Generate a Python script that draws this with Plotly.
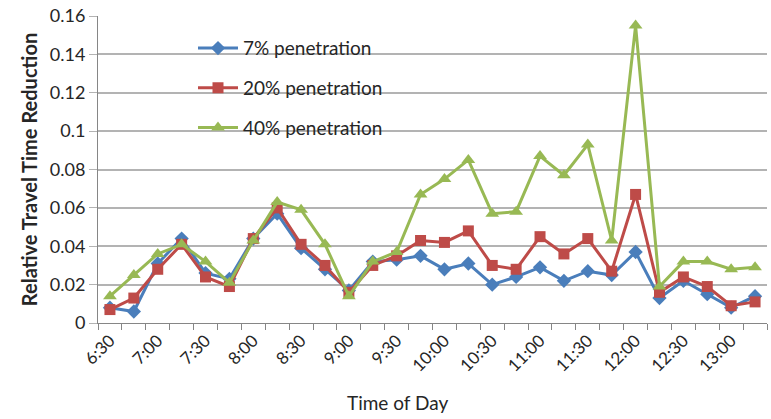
import plotly.graph_objects as go

times = ["6:30", "6:45", "7:00", "7:15", "7:30", "7:45", "8:00", "8:15", "8:30", "8:45",
         "9:00", "9:15", "9:30", "9:45", "10:00", "10:15", "10:30", "10:45", "11:00", "11:15",
         "11:30", "11:45", "12:00", "12:15", "12:30", "12:45", "13:00", "13:15"]

pen7 = [0.008, 0.006, 0.031, 0.044, 0.026, 0.023, 0.044, 0.057, 0.039, 0.028,
        0.017, 0.032, 0.033, 0.035, 0.028, 0.031, 0.020, 0.024, 0.029, 0.022,
        0.027, 0.025, 0.037, 0.013, 0.022, 0.015, 0.008, 0.014]

pen20 = [0.007, 0.013, 0.028, 0.041, 0.024, 0.019, 0.044, 0.060, 0.041, 0.030,
         0.016, 0.030, 0.035, 0.043, 0.042, 0.048, 0.030, 0.028, 0.045, 0.036,
         0.044, 0.027, 0.067, 0.016, 0.024, 0.019, 0.009, 0.011]

pen40 = [0.014, 0.025, 0.036, 0.041, 0.032, 0.021, 0.043, 0.063, 0.059, 0.041,
         0.014, 0.032, 0.037, 0.067, 0.075, 0.085, 0.057, 0.058, 0.087, 0.077,
         0.093, 0.043, 0.155, 0.019, 0.032, 0.032, 0.028, 0.029]

series_names = ["7% penetration", "20% penetration", "40% penetration"]
y_ticks = [0, 0.02, 0.04, 0.06, 0.08, 0.1, 0.12, 0.14, 0.16]
y_ticktext = ["0", "0.02", "0.04", "0.06", "0.08", "0.1", "0.12", "0.14", "0.16"]
x_title = "Time of Day"
y_title = "Relative Travel Time Reduction"

FONT = "Lato"
idx = list(range(len(times)))

fig = go.Figure()
styles = [
    (pen7, "#4a7ebb", "diamond", 11),
    (pen20, "#be4b48", "square", 11),
    (pen40, "#98b954", "triangle-up", 12),
]
for (vals, color, sym, size), name in zip(styles, series_names):
    fig.add_trace(go.Scatter(
        x=idx, y=vals, name=name, mode="lines+markers",
        line=dict(color=color, width=3),
        marker=dict(symbol=sym, size=size, color=color),
        legendgroup=name,
    ))

fig.add_shape(type="rect", xref="paper", yref="paper",
              x0=0.055, x1=0.537, y0=0.57, y1=0.953,
              fillcolor="white", line=dict(width=0), layer="between")

fig.add_annotation(text=x_title, xref="paper", yref="paper",
                   x=0.447, y=-0.259, xanchor="center", yanchor="middle",
                   showarrow=False, font=dict(size=19, color="#262626"))

fig.update_layout(
    width=771, height=419,
    margin=dict(l=98, r=4, t=14, b=96),
    paper_bgcolor="white", plot_bgcolor="white",
    font=dict(family=FONT, size=15, color="#404040"),
    showlegend=True,
    legend=dict(x=0.142, y=0.957, xanchor="left", yanchor="top",
                bgcolor="rgba(0,0,0,0)", font=dict(size=19, color="#262626"),
                tracegroupgap=12, itemwidth=40),
    xaxis=dict(
        range=[-0.5, len(times) - 0.5],
        tickmode="array", tickvals=idx[::2], ticktext=times[::2],
        tickangle=-45, ticks="", showgrid=False, zeroline=False,
        showline=True, linecolor="#868686", linewidth=1,
        minor=dict(ticks="outside", tick0=-0.5, dtick=1, ticklen=6,
                   tickcolor="#868686", showgrid=False),
        tickfont=dict(size=17, color="#262626"),
    ),
    yaxis=dict(
        range=[0, 0.16], tickmode="array", tickvals=y_ticks, ticktext=y_ticktext,
        showgrid=True, gridcolor="#b3b3b3", gridwidth=1.5,
        zeroline=False, showline=True, linecolor="#868686", linewidth=1,
        ticks="outside", ticklen=8, tickcolor="#b3b3b3",
        tickfont=dict(size=18, color="#262626"),
        title=dict(text="<b>" + y_title + "</b>",
                   font=dict(size=20, color="#262626"), standoff=6),
    ),
)

fig.write_html("out.html")
